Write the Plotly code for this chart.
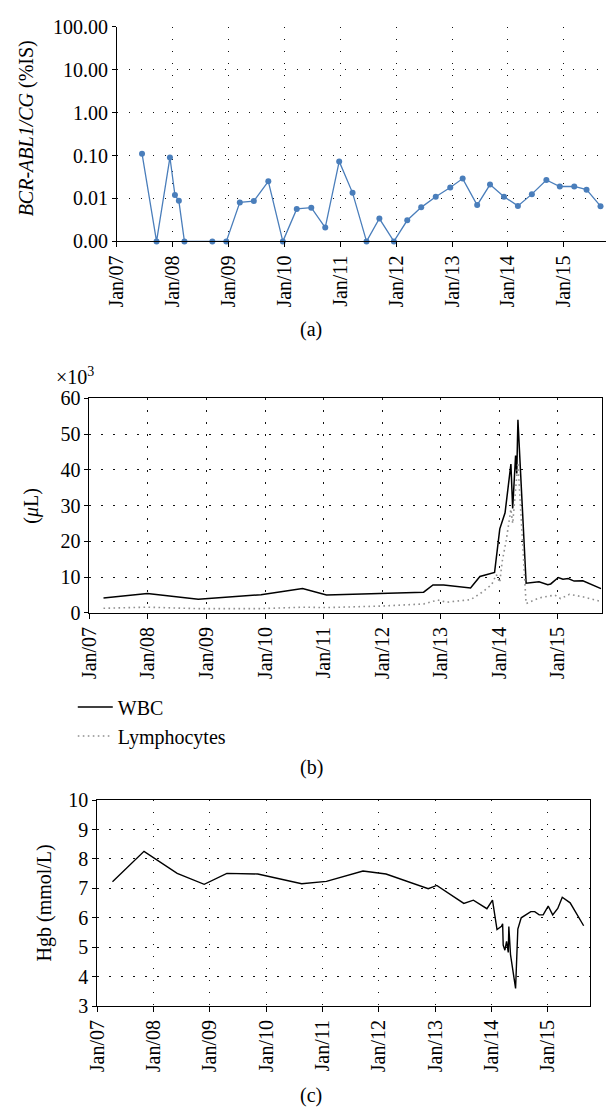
import pandas as pd
import plotly.graph_objects as go

# ---------------- data (decimal years, values) ----------------
bcr_year = [2007.45, 2007.71, 2007.95, 2008.04, 2008.11, 2008.21, 2008.71, 2008.96,
            2009.20, 2009.45, 2009.71, 2009.97, 2010.22, 2010.48, 2010.73, 2010.98,
            2011.22, 2011.47, 2011.70, 2011.96, 2012.20, 2012.45, 2012.71, 2012.97,
            2013.19, 2013.45, 2013.68, 2013.93, 2014.18, 2014.43, 2014.69, 2014.93,
            2015.19, 2015.41, 2015.66]
bcr_value = [0.11, 0.001, 0.09, 0.012, 0.0088, 0.001, 0.001, 0.001,
             0.0081, 0.0087, 0.025, 0.001, 0.0057, 0.0061, 0.0021, 0.073,
             0.0135, 0.001, 0.0034, 0.001, 0.0031, 0.0062, 0.011, 0.018,
             0.029, 0.0070, 0.021, 0.011, 0.0067, 0.0126, 0.027, 0.019,
             0.019, 0.016, 0.0066]

wbc_year = [2007.24, 2007.99, 2008.86, 2009.93, 2010.64, 2011.05, 2012.71, 2012.87,
            2013.05, 2013.51, 2013.67, 2013.92, 2014.01, 2014.10, 2014.20, 2014.23,
            2014.28, 2014.30, 2014.32, 2014.46, 2014.68, 2014.83, 2014.88, 2015.01,
            2015.09, 2015.18, 2015.28, 2015.43, 2015.74]
wbc_value = [4.2, 5.4, 3.8, 5.1, 6.8, 5.0, 5.8, 7.8,
             7.8, 7.0, 10.2, 11.3, 23.5, 28.0, 41.6, 29.2,
             44.0, 39.0, 54.0, 8.3, 8.7, 7.9, 8.1, 9.9,
             9.4, 9.6, 8.9, 9.0, 6.8]

lym_year = [2007.24, 2007.99, 2008.86, 2009.93, 2010.64, 2011.05, 2011.95, 2012.71,
            2012.95, 2013.10, 2013.51, 2013.70, 2013.87, 2013.95, 2014.01, 2014.05,
            2014.12, 2014.20, 2014.23, 2014.28, 2014.32, 2014.46, 2014.68, 2014.95,
            2015.05, 2015.20, 2015.43, 2015.74]
lym_value = [1.3, 1.6, 1.2, 1.2, 1.6, 1.5, 1.9, 2.5,
             3.6, 3.0, 3.7, 5.7, 7.9, 10.7, 8.5, 14.3,
             20.3, 29.0, 25.0, 35.0, 42.0, 2.6, 4.2, 5.0,
             4.0, 5.2, 4.5, 3.2]

hgb_year = [2007.27, 2007.83, 2008.42, 2008.90, 2009.30, 2009.85, 2010.63, 2011.07,
            2011.72, 2012.13, 2012.88, 2013.03, 2013.51, 2013.68, 2013.92, 2014.02,
            2014.10, 2014.18, 2014.20, 2014.21, 2014.24, 2014.27, 2014.30, 2014.31,
            2014.34, 2014.43, 2014.47, 2014.53, 2014.70, 2014.77, 2014.85, 2014.92,
            2015.01, 2015.09, 2015.18, 2015.26, 2015.40, 2015.64]
hgb_value = [7.23, 8.26, 7.51, 7.14, 7.51, 7.49, 7.16, 7.24,
             7.59, 7.49, 6.99, 7.10, 6.49, 6.60, 6.31, 6.60,
             5.60, 5.71, 5.80, 5.07, 4.90, 5.20, 4.82, 5.70,
             4.75, 3.60, 5.62, 6.00, 6.21, 6.21, 6.10, 6.10,
             6.40, 6.10, 6.32, 6.70, 6.51, 5.73]

bcr_ticks = [0.001, 0.01, 0.1, 1, 10, 100]
bcr_ticktext = ["0.00", "0.01", "0.10", "1.00", "10.00", "100.00"]
x_start, x_end = 2007.0, 2015.76


def to_date(v):
    y = int(v)
    return pd.Timestamp(f"{y}-01-01") + pd.Timedelta(days=(v - y) * 365.25)


def dates(lst):
    return [to_date(v) for v in lst]


W, H = 611, 1119
FONT = "Liberation Serif"
FS = 20


def px(x):
    return x / W


def py(y):
    return 1 - y / H


fig = go.Figure()
fig.add_trace(go.Scatter(x=dates(bcr_year), y=bcr_value, mode="lines+markers",
                         line=dict(color="#4a7ebb", width=1.3),
                         marker=dict(color="#4a7ebb", size=6),
                         xaxis="x", yaxis="y", showlegend=False, cliponaxis=False))
fig.add_trace(go.Scatter(x=dates(wbc_year), y=wbc_value, mode="lines", name="WBC",
                         line=dict(color="black", width=1.5),
                         xaxis="x2", yaxis="y2"))
fig.add_trace(go.Scatter(x=dates(lym_year), y=lym_value, mode="lines", name="Lymphocytes",
                         line=dict(color="#8f8f8f", width=1.6, dash="1.6px,3.4px"),
                         xaxis="x2", yaxis="y2"))
fig.add_trace(go.Scatter(x=dates(hgb_year), y=hgb_value, mode="lines",
                         line=dict(color="black", width=1.4),
                         xaxis="x3", yaxis="y3", showlegend=False))

grid = dict(showgrid=True, gridcolor="#111", gridwidth=1.3, griddash="1.3px,10.7px",
            zeroline=False, showline=True, linecolor="black", linewidth=1,
            ticks="outside", tickcolor="black", tickfont=dict(family=FONT, size=FS, color="black"))

xcommon = dict(type="date", range=[to_date(x_start), to_date(x_end)],
               tick0="2007-01-01", dtick="M12", tickformat="%b/%y", tickangle=-90,
               ticklen=5, **grid)

fig.update_layout(
    width=W, height=H, margin=dict(l=0, r=0, t=0, b=0),
    paper_bgcolor="white", plot_bgcolor="white",
    font=dict(family=FONT, size=FS, color="black"),
    xaxis=dict(domain=[px(107), px(606)], anchor="y", mirror=False, **xcommon),
    yaxis=dict(domain=[py(235), py(16)], anchor="x", type="log", range=[-3, 2],
               tickvals=bcr_ticks, ticktext=bcr_ticktext, ticklen=4, mirror=False, **grid),
    xaxis2=dict(domain=[px(79), px(602)], anchor="y2", mirror=True, **xcommon),
    yaxis2=dict(domain=[py(614), py(395)], anchor="x2", range=[0, 60], dtick=10,
                ticklen=4, mirror=True, **grid),
    xaxis3=dict(domain=[px(87), px(590)], anchor="y3", mirror=True, **xcommon),
    yaxis3=dict(domain=[py(1015), py(805)], anchor="x3", range=[3, 10], dtick=1,
                ticklen=4, mirror=True, **grid),
    legend=dict(x=px(62), y=py(690), xanchor="left", yanchor="top",
                font=dict(family=FONT, size=FS, color="black"),
                bgcolor="rgba(0,0,0,0)", tracegroupgap=0, itemwidth=35),
)

ann = [
    dict(text="<i>BCR-ABL1/CG</i> (%IS)", x=px(15), y=py(120), textangle=-90),
    dict(text="(<i>μ</i>L)", x=px(19), y=py(505), textangle=-90),
    dict(text="Hgb (mmol/L)", x=px(33), y=py(910), textangle=-90),
    dict(text="×10<sup>3</sup>", x=px(43), y=py(372), xanchor="left"),
    dict(text="(a)", x=px(305), y=py(325)),
    dict(text="(b)", x=px(305), y=py(772)),
    dict(text="(c)", x=px(305), y=py(1106)),
]
for a in ann:
    a.setdefault("xanchor", "center")
    fig.add_annotation(xref="paper", yref="paper", showarrow=False, yanchor="middle",
                       font=dict(family=FONT, size=FS, color="black"), **a)

fig.write_html("out.html", config={"displayModeBar": False},
               post_script="document.body.style.margin='0px';document.body.style.overflow='hidden';")
